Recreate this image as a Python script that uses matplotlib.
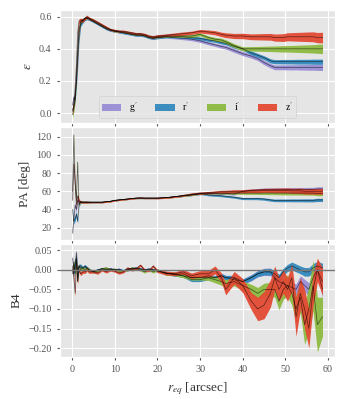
import matplotlib
matplotlib.use("Agg")
import matplotlib.pyplot as plt
import numpy as np

plt.style.use("ggplot")
plt.rcParams["font.family"] = ["Liberation Serif", "DejaVu Serif"]
plt.rcParams["mathtext.fontset"] = "stix"

bands = ["g$'$", "r$'$", "i$'$", "z$'$"]
colors = ["#988ED5", "#348ABD", "#8EBA42", "#E24A33"]

r_eq = [0.1, 0.4, 0.7, 1.0, 1.3, 1.6, 2.0, 2.5, 3.0, 3.5, 4.0,
        5, 6, 7, 8, 9, 10, 11, 12, 13, 14, 15, 16, 17, 18, 19, 20,
        22, 24, 26, 28, 30, 32, 33.5, 35, 36, 38, 40, 42, 43.5, 45, 46.5,
        47.5, 48.5, 49.5, 50.5, 51.5, 52.5, 53.5, 54.5, 55.5, 56.5, 57.5, 58.7]

# ellipticity
eps_g = [0.05, 0.10, 0.08, 0.20, 0.35, 0.50, 0.56, 0.58, 0.59, 0.59, 0.585,
         0.57, 0.555, 0.54, 0.525, 0.515, 0.51, 0.505, 0.50, 0.495, 0.49, 0.485, 0.485, 0.48, 0.47, 0.465, 0.47,
         0.475, 0.47, 0.465, 0.46, 0.45, 0.435, 0.425, 0.415, 0.41, 0.39, 0.37, 0.355, 0.34, 0.315, 0.295,
         0.285, 0.285, 0.285, 0.285, 0.285, 0.285, 0.285, 0.285, 0.285, 0.285, 0.285, 0.285]
eps_r = [0.02, 0.04, 0.10, 0.18, 0.30, 0.45, 0.55, 0.57, 0.585, 0.59, 0.585,
         0.57, 0.555, 0.54, 0.525, 0.515, 0.51, 0.505, 0.50, 0.495, 0.49, 0.485, 0.485, 0.48, 0.47, 0.465, 0.47,
         0.475, 0.475, 0.475, 0.47, 0.465, 0.455, 0.45, 0.44, 0.435, 0.415, 0.40, 0.375, 0.36, 0.345, 0.325,
         0.32, 0.32, 0.32, 0.32, 0.32, 0.32, 0.32, 0.32, 0.32, 0.32, 0.32, 0.32]
eps_i = [-0.01, 0.03, 0.08, 0.22, 0.40, 0.52, 0.57, 0.58, 0.59, 0.595, 0.59,
         0.575, 0.56, 0.545, 0.53, 0.52, 0.51, 0.51, 0.505, 0.50, 0.495, 0.49, 0.49, 0.485, 0.475, 0.47, 0.475,
         0.48, 0.48, 0.48, 0.48, 0.49, 0.47, 0.46, 0.455, 0.445, 0.42, 0.40, 0.40, 0.40, 0.40, 0.40,
         0.40, 0.40, 0.40, 0.40, 0.40, 0.40, 0.40, 0.40, 0.40, 0.40, 0.40, 0.40]
eps_z = [0.01, 0.06, 0.15, 0.30, 0.50, 0.57, 0.58, 0.575, 0.59, 0.60, 0.59,
         0.58, 0.565, 0.55, 0.535, 0.52, 0.515, 0.51, 0.51, 0.505, 0.50, 0.495, 0.495, 0.49, 0.48, 0.475, 0.48,
         0.485, 0.49, 0.495, 0.50, 0.51, 0.505, 0.50, 0.49, 0.485, 0.48, 0.48, 0.475, 0.475, 0.475, 0.475,
         0.47, 0.47, 0.47, 0.475, 0.475, 0.475, 0.475, 0.475, 0.475, 0.475, 0.47, 0.47]
eps_g_err = [0.02, 0.02, 0.02, 0.02, 0.02, 0.015, 0.01, 0.01, 0.01, 0.008, 0.008,
             0.006, 0.006, 0.006, 0.006, 0.006, 0.006, 0.006, 0.006, 0.006, 0.006, 0.006, 0.006, 0.006, 0.006, 0.006, 0.007,
             0.007, 0.008, 0.008, 0.009, 0.01, 0.01, 0.01, 0.011, 0.011, 0.012, 0.012, 0.013, 0.013, 0.014, 0.014,
             0.015, 0.015, 0.015, 0.016, 0.016, 0.016, 0.017, 0.017, 0.018, 0.018, 0.019, 0.02]
eps_r_err = [0.02, 0.02, 0.02, 0.02, 0.02, 0.015, 0.01, 0.01, 0.01, 0.008, 0.008,
             0.006, 0.006, 0.006, 0.006, 0.006, 0.006, 0.006, 0.006, 0.006, 0.006, 0.006, 0.006, 0.006, 0.006, 0.006, 0.007,
             0.007, 0.007, 0.008, 0.008, 0.009, 0.009, 0.01, 0.01, 0.01, 0.011, 0.011, 0.012, 0.012, 0.012, 0.013,
             0.013, 0.013, 0.014, 0.014, 0.014, 0.015, 0.015, 0.015, 0.015, 0.016, 0.016, 0.016]
eps_i_err = [0.02, 0.02, 0.02, 0.02, 0.02, 0.015, 0.01, 0.01, 0.01, 0.008, 0.008,
             0.006, 0.006, 0.006, 0.006, 0.006, 0.006, 0.006, 0.006, 0.006, 0.006, 0.006, 0.006, 0.006, 0.006, 0.006, 0.007,
             0.007, 0.008, 0.008, 0.009, 0.01, 0.01, 0.011, 0.011, 0.012, 0.012, 0.013, 0.014, 0.015, 0.016, 0.017,
             0.018, 0.019, 0.02, 0.02, 0.021, 0.022, 0.023, 0.024, 0.025, 0.026, 0.028, 0.03]
eps_z_err = [0.02, 0.02, 0.02, 0.02, 0.02, 0.015, 0.012, 0.01, 0.01, 0.01, 0.008,
             0.007, 0.007, 0.007, 0.007, 0.007, 0.007, 0.007, 0.007, 0.007, 0.007, 0.007, 0.007, 0.007, 0.007, 0.008, 0.008,
             0.008, 0.009, 0.01, 0.01, 0.011, 0.012, 0.013, 0.014, 0.015, 0.016, 0.017, 0.018, 0.019, 0.02, 0.021,
             0.022, 0.023, 0.024, 0.025, 0.026, 0.027, 0.028, 0.029, 0.03, 0.031, 0.032, 0.033]

# position angle
pa_g = [14, 30, 45, 40, 50, 48, 48, 48, 48, 48, 48,
        48, 48, 48, 48.5, 49, 50, 50.5, 51, 51.5, 52, 52.5, 52.5, 52.5, 52.5, 52.5, 52.5,
        53, 54, 55, 56, 57, 57.5, 57.5, 57, 57.5, 57, 60, 61, 61.5, 62, 62,
        62, 62, 62, 62, 62, 62, 62, 62, 62, 62, 62.5, 62.5]
pa_r = [40, 27, 30, 35, 27, 45, 48, 48, 48, 48, 48,
        48, 48, 48, 48.5, 49, 50, 50.5, 51, 51.5, 52, 52.5, 52.5, 52.5, 52.5, 52.5, 52.5,
        53, 54, 55, 56, 57.5, 56, 55.5, 55, 54.5, 53.5, 52, 52, 52, 51.5, 50.5,
        50, 50, 50, 50, 50, 50, 50, 50, 50, 50, 50.5, 50.5]
pa_i = [60, 122, 70, 50, 92, 45, 49, 48, 48, 48, 48,
        48, 48, 48, 48.5, 49, 50, 50.5, 51, 51.5, 52, 52.5, 52.5, 52.5, 52.5, 52.5, 52.5,
        53, 54, 55, 56, 57.5, 58, 58, 58, 58, 58, 58, 58, 58, 58, 58,
        58, 58, 58, 58, 58, 58, 58, 58, 58, 58, 57.5, 57.5]
pa_z = [50, 90, 70, 45, 55, 50, 48, 48, 48, 48, 48,
        48, 48, 48, 48.5, 49, 50, 50.5, 51, 51.5, 52, 52.5, 53, 52.5, 52.5, 52.5, 52.5,
        53, 54, 55.5, 57, 58, 58.5, 59, 59.5, 59.5, 60, 60, 60.5, 60.5, 61, 61,
        61, 61, 61, 61, 60.5, 60.5, 60.5, 60, 60, 60, 60, 60]
pa_g_err = [2, 3, 3, 3, 2, 2, 1, 1, 1, 1, 0.8,
            0.6, 0.6, 0.6, 0.6, 0.6, 0.6, 0.6, 0.6, 0.6, 0.6, 0.6, 0.6, 0.6, 0.6, 0.6, 0.6,
            0.7, 0.7, 0.8, 0.8, 0.9, 1.0, 1.0, 1.1, 1.1, 1.2, 1.3, 1.4, 1.5, 1.6, 1.7,
            1.8, 1.9, 2.0, 2.0, 2.1, 2.1, 2.2, 2.2, 2.3, 2.3, 2.4, 2.5]
pa_r_err = [2, 3, 3, 3, 2, 2, 1, 1, 1, 1, 0.8,
            0.6, 0.6, 0.6, 0.6, 0.6, 0.6, 0.6, 0.6, 0.6, 0.6, 0.6, 0.6, 0.6, 0.6, 0.6, 0.6,
            0.7, 0.7, 0.8, 0.8, 0.9, 1.0, 1.0, 1.0, 1.1, 1.1, 1.2, 1.2, 1.3, 1.3, 1.4,
            1.4, 1.5, 1.5, 1.5, 1.6, 1.6, 1.6, 1.7, 1.7, 1.7, 1.8, 1.8]
pa_i_err = [2, 3, 3, 3, 2, 2, 1, 1, 1, 1, 0.8,
            0.6, 0.6, 0.6, 0.6, 0.6, 0.6, 0.6, 0.6, 0.6, 0.6, 0.6, 0.6, 0.6, 0.6, 0.6, 0.6,
            0.7, 0.7, 0.8, 0.8, 0.9, 1.0, 1.0, 1.1, 1.1, 1.2, 1.3, 1.4, 1.5, 1.6, 1.7,
            1.8, 1.9, 2.0, 2.0, 2.1, 2.1, 2.2, 2.2, 2.3, 2.3, 2.4, 2.5]
pa_z_err = [3, 3, 3, 3, 2, 2, 1, 1, 1, 1, 0.8,
            0.7, 0.7, 0.7, 0.7, 0.7, 0.7, 0.7, 0.7, 0.7, 0.7, 0.7, 0.7, 0.7, 0.7, 0.7, 0.8,
            0.8, 0.9, 1.0, 1.1, 1.2, 1.3, 1.4, 1.5, 1.6, 1.7, 1.8, 2.0, 2.1, 2.2, 2.3,
            2.4, 2.5, 2.6, 2.7, 2.8, 2.9, 3.0, 3.0, 3.1, 3.1, 3.2, 3.3]

# B4
b4_g = [0.03, 0.0, 0.01, 0.045, 0.0, 0.01, 0.005, 0.005, 0.008, 0.005, 0.0,
        -0.005, 0.0, 0.002, 0.0, 0.003, 0.0, 0.002, -0.003, 0.0, 0.003, 0.005, 0.003, 0.0, 0.002, 0.0, -0.003,
        -0.008, -0.012, -0.01, -0.02, -0.02, -0.015, -0.02, -0.015, -0.02, -0.025, -0.03, -0.02, -0.01, -0.005, -0.005,
        -0.02, -0.03, -0.035, -0.04, -0.045, -0.05, -0.03, -0.04, -0.05, -0.02, 0.0, -0.05]
b4_r = [0.0, -0.01, 0.02, 0.03, -0.02, 0.01, 0.01, 0.005, 0.01, 0.005, 0.0,
        -0.004, 0.0, 0.003, 0.001, 0.002, 0.0, 0.001, -0.002, 0.001, 0.004, 0.004, 0.002, 0.0, 0.002, 0.001, -0.002,
        -0.008, -0.012, -0.015, -0.025, -0.025, -0.02, -0.02, -0.015, -0.02, -0.02, -0.03, -0.02, -0.01, -0.005, -0.005,
        -0.01, -0.02, -0.005, 0.005, 0.01, 0.005, 0.0, -0.005, -0.005, 0.005, 0.01, 0.005]
b4_i = [-0.01, 0.02, -0.01, 0.03, -0.03, 0.01, 0.0, 0.005, 0.0, 0.005, 0.0,
        -0.005, -0.003, 0.003, 0.005, 0.0, 0.002, -0.003, -0.002, 0.0, 0.005, 0.003, 0.0, -0.005, 0.0, -0.005, 0.0,
        -0.01, -0.01, -0.015, -0.02, -0.02, -0.02, -0.025, -0.03, -0.035, -0.03, -0.04, -0.05, -0.06, -0.05, -0.05,
        -0.05, -0.08, -0.05, -0.04, -0.06, -0.10, -0.07, -0.14, -0.10, -0.04, -0.14, -0.12]
b4_z = [0.01, -0.02, -0.06, 0.02, -0.03, 0.0, -0.01, -0.005, -0.005, 0.0, -0.005,
        -0.005, -0.008, 0.0, -0.005, 0.0, -0.003, -0.008, -0.005, 0.005, 0.0, 0.003, 0.012, 0.0, -0.002, 0.01, -0.003,
        -0.008, -0.01, -0.005, -0.015, -0.01, -0.01, 0.0, -0.02, -0.05, -0.02, -0.04, -0.08, -0.10, -0.09, -0.06,
        -0.02, -0.05, -0.03, -0.05, -0.02, -0.12, -0.06, -0.10, -0.15, -0.05, 0.0, -0.03]
b4_g_err = [0.008, 0.008, 0.008, 0.008, 0.006, 0.005, 0.005, 0.004, 0.004, 0.004, 0.004,
            0.003, 0.003, 0.003, 0.003, 0.003, 0.003, 0.003, 0.003, 0.003, 0.003, 0.003, 0.003, 0.003, 0.003, 0.003, 0.003,
            0.004, 0.004, 0.004, 0.005, 0.005, 0.005, 0.006, 0.006, 0.006, 0.007, 0.007, 0.008, 0.008, 0.009, 0.01,
            0.01, 0.011, 0.012, 0.012, 0.013, 0.014, 0.015, 0.016, 0.017, 0.018, 0.019, 0.02]
b4_r_err = [0.008, 0.008, 0.008, 0.008, 0.006, 0.005, 0.005, 0.004, 0.004, 0.004, 0.004,
            0.003, 0.003, 0.003, 0.003, 0.003, 0.003, 0.003, 0.003, 0.003, 0.003, 0.003, 0.003, 0.003, 0.003, 0.003, 0.003,
            0.004, 0.004, 0.004, 0.005, 0.005, 0.005, 0.005, 0.006, 0.006, 0.006, 0.007, 0.007, 0.007, 0.008, 0.008,
            0.008, 0.009, 0.009, 0.009, 0.01, 0.01, 0.01, 0.011, 0.011, 0.011, 0.012, 0.012]
b4_i_err = [0.008, 0.008, 0.008, 0.008, 0.006, 0.005, 0.005, 0.004, 0.004, 0.004, 0.004,
            0.003, 0.003, 0.003, 0.003, 0.003, 0.003, 0.003, 0.003, 0.003, 0.003, 0.003, 0.003, 0.003, 0.003, 0.003, 0.003,
            0.004, 0.005, 0.005, 0.006, 0.006, 0.007, 0.008, 0.009, 0.01, 0.011, 0.012, 0.013, 0.015, 0.016, 0.018,
            0.02, 0.022, 0.025, 0.028, 0.03, 0.035, 0.04, 0.05, 0.06, 0.065, 0.07, 0.05]
b4_z_err = [0.008, 0.008, 0.008, 0.008, 0.006, 0.005, 0.005, 0.004, 0.004, 0.004, 0.004,
            0.003, 0.003, 0.003, 0.003, 0.003, 0.003, 0.003, 0.003, 0.003, 0.003, 0.003, 0.003, 0.003, 0.003, 0.003, 0.004,
            0.005, 0.005, 0.006, 0.007, 0.008, 0.009, 0.01, 0.012, 0.014, 0.016, 0.018, 0.022, 0.03, 0.035, 0.035,
            0.03, 0.03, 0.03, 0.03, 0.035, 0.05, 0.04, 0.05, 0.05, 0.04, 0.03, 0.035]

eps = [eps_g, eps_r, eps_i, eps_z]
eps_err = [eps_g_err, eps_r_err, eps_i_err, eps_z_err]
pa = [pa_g, pa_r, pa_i, pa_z]
pa_err = [pa_g_err, pa_r_err, pa_i_err, pa_z_err]
b4 = [b4_g, b4_r, b4_i, b4_z]
b4_err = [b4_g_err, b4_r_err, b4_i_err, b4_z_err]

fig = plt.figure(figsize=(3.45, 3.99), dpi=100)
gs = fig.add_gridspec(3, 1, left=0.174, right=0.971, top=0.975, bottom=0.105, hspace=0.035)
ax1 = fig.add_subplot(gs[0])
ax2 = fig.add_subplot(gs[1], sharex=ax1)
ax3 = fig.add_subplot(gs[2], sharex=ax1)

x = np.array(r_eq)
for ax, vals, errs in [(ax1, eps, eps_err), (ax2, pa, pa_err), (ax3, b4, b4_err)]:
    for lab, c, v, e in zip(bands, colors, vals, errs):
        v = np.array(v); e = np.array(e)
        ax.fill_between(x, v - e, v + e, color=c, alpha=0.95, lw=0, label=lab)
        ax.plot(x, v, color="k", lw=0.5, alpha=0.6)

ax3.axhline(0, color="#777777", lw=1.0, zorder=5)

for ax in (ax1, ax2, ax3):
    ax.tick_params(labelsize=7.3, colors="#555555", length=2.5)
ax1.tick_params(labelbottom=False)
ax2.tick_params(labelbottom=False)

ax1.set_yticks([0.0, 0.2, 0.4, 0.6])
ax2.set_yticks([20, 40, 60, 80, 100, 120])
ax3.set_yticks([0.05, 0.0, -0.05, -0.10, -0.15, -0.20])
ax3.set_xticks([0, 10, 20, 30, 40, 50, 60])

ax1.set_ylabel(r"$\epsilon$", fontsize=9.5, color="#333333")
ax2.set_ylabel("PA [deg]", fontsize=9.5, color="#333333")
ax3.set_ylabel("B4", fontsize=9.5, color="#333333")
ax3.set_xlabel(r"$r_{eq}$ [arcsec]", fontsize=9.5, color="#333333")

ax1.legend(loc="lower center", ncol=4, fontsize=7, handlelength=2.0,
           columnspacing=1.8, borderpad=0.35, handletextpad=0.8, framealpha=0.8)

fig.savefig("out.png", dpi=100)
